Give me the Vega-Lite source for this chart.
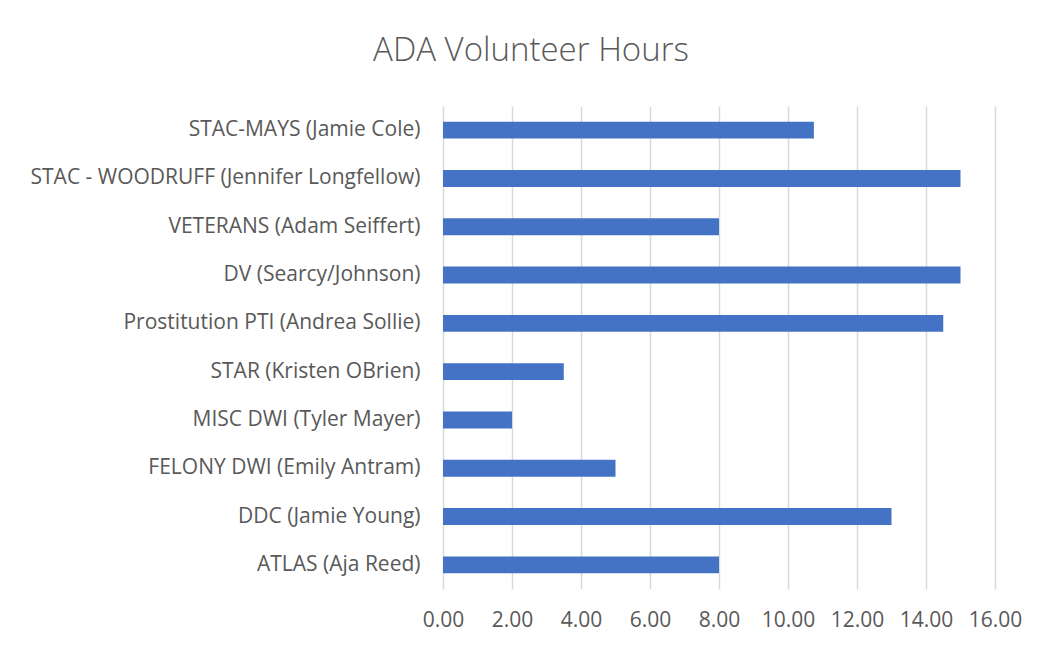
{
  "$schema": "https://vega.github.io/schema/vega-lite/v6.json",
  "width": 552,
  "height": 483,
  "autosize": {"type": "none"},
  "padding": {"left": 443, "top": 106, "right": 48, "bottom": 59},
  "background": "white",
  "title": {
    "text": "ADA Volunteer Hours",
    "font": "Open Sans",
    "fontSize": 33,
    "fontWeight": 300,
    "color": "#595959",
    "anchor": "middle",
    "frame": "group",
    "dx": -188,
    "offset": 38
  },
  "data": {
    "values": [
      {"unit": "STAC-MAYS (Jamie Cole)", "hours": 10.75},
      {"unit": "STAC - WOODRUFF (Jennifer Longfellow)", "hours": 15},
      {"unit": "VETERANS (Adam Seiffert)", "hours": 8},
      {"unit": "DV (Searcy/Johnson)", "hours": 15},
      {"unit": "Prostitution PTI (Andrea Sollie)", "hours": 14.5},
      {"unit": "STAR (Kristen OBrien)", "hours": 3.5},
      {"unit": "MISC DWI (Tyler Mayer)", "hours": 2},
      {"unit": "FELONY DWI (Emily Antram)", "hours": 5},
      {"unit": "DDC (Jamie Young)", "hours": 13},
      {"unit": "ATLAS (Aja Reed)", "hours": 8}
    ]
  },
  "mark": {"type": "bar", "color": "#4472c4"},
  "encoding": {
    "y": {
      "field": "unit",
      "type": "nominal",
      "sort": null,
      "title": null,
      "scale": {"paddingInner": 0.65, "paddingOuter": 0.325},
      "axis": {
        "ticks": false,
        "domain": false,
        "labelPadding": 23,
        "labelFont": "Open Sans",
        "labelFontSize": 21,
        "labelColor": "#595959",
        "labelLimit": 500
      }
    },
    "x": {
      "field": "hours",
      "type": "quantitative",
      "title": null,
      "scale": {"domain": [0, 16], "nice": false},
      "axis": {
        "values": [0, 2, 4, 6, 8, 10, 12, 14, 16],
        "format": ".2f",
        "ticks": false,
        "domain": false,
        "grid": true,
        "gridColor": "#d9d9d9",
        "gridWidth": 1.5,
        "labelPadding": 20,
        "labelOverlap": false,
        "labelFlush": false,
        "labelFont": "Open Sans",
        "labelFontSize": 21,
        "labelColor": "#595959"
      }
    }
  },
  "config": {"view": {"stroke": null}}
}
